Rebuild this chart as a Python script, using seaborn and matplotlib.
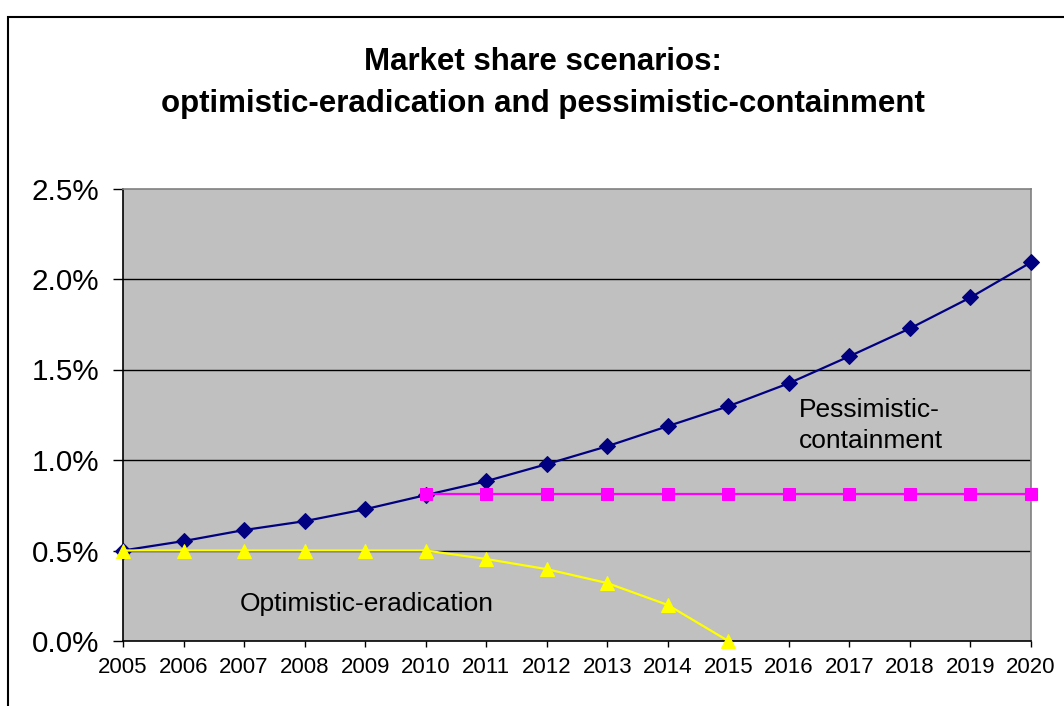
import matplotlib
matplotlib.use("Agg")
import matplotlib.pyplot as plt
import seaborn as sns
import pandas as pd
from matplotlib.ticker import FuncFormatter
from matplotlib.patches import Rectangle

years = list(range(2005, 2021))
pessimistic_vals = [0.50, 0.552, 0.613, 0.662, 0.728, 0.806, 0.883, 0.977, 1.076,
                    1.187, 1.297, 1.424, 1.573, 1.727, 1.898, 2.092]
containment_years = list(range(2010, 2021))
containment_vals = [0.81] * 11
eradication_years = list(range(2005, 2016))
eradication_vals = [0.50, 0.50, 0.50, 0.50, 0.50, 0.50, 0.453, 0.397, 0.32, 0.199, 0.0]
y_ticks = [0.0, 0.5, 1.0, 1.5, 2.0, 2.5]

sns.set_theme(style="white")
plt.rcParams['font.family'] = ['Liberation Sans', 'DejaVu Sans']
plt.rcParams['text.color'] = 'black'

fig = plt.figure(figsize=(10.64, 7.06), dpi=100)
ax = fig.add_axes([123/1064, 1-641/706, (1031-123)/1064, (641-188.5)/706])
ax.set_facecolor('#C0C0C0')

for yt in y_ticks[1:-1]:
    ax.axhline(yt, color='black', lw=1.0, zorder=1)

sns.lineplot(x=years, y=pessimistic_vals, ax=ax, color='#000080', lw=1.6,
             marker='D', markersize=8.5, markeredgecolor='#000080', clip_on=False, zorder=3)
sns.lineplot(x=containment_years, y=containment_vals, ax=ax, color='#FF00FF', lw=1.6,
             marker='s', markersize=8.5, markeredgecolor='#FF00FF', clip_on=False, zorder=4)
sns.lineplot(x=eradication_years, y=eradication_vals, ax=ax, color='#FFFF00', lw=1.6,
             marker='^', markersize=10.5, markeredgecolor='#FFFF00', clip_on=False, zorder=5)

ax.set_xlim(2005, 2020)
ax.set_ylim(0, 2.5)
ax.set_xticks(years)
ax.set_yticks(y_ticks)
ax.yaxis.set_major_formatter(FuncFormatter(lambda v, p: f"{v:.1f}%"))
ax.tick_params(axis='x', labelsize=16, direction='out', length=4.5, width=1, color='black', pad=7, bottom=True)
ax.tick_params(axis='y', labelsize=21.3, direction='out', length=7, width=1, color='black', pad=10, left=True)
for lab in ax.get_xticklabels() + ax.get_yticklabels():
    lab.set_color('black')

for s in ['left', 'bottom']:
    ax.spines[s].set_color('black')
    ax.spines[s].set_linewidth(1.2)
for s in ['top', 'right']:
    ax.spines[s].set_color('#808080')
    ax.spines[s].set_linewidth(1.2)
ax.set_xlabel('')
ax.set_ylabel('')

ax.text(2016.17, 1.19, "Pessimistic-\ncontainment", fontsize=19, ha='left', va='center',
        color='black', linespacing=1.35)
ax.text(2009.03, 0.204, "Optimistic-eradication", fontsize=19, ha='center', va='center', color='black')

fig.text(0.51, 1-83/706, "Market share scenarios:\noptimistic-eradication and pessimistic-containment",
         ha='center', va='center', fontsize=22.5, fontweight='bold', linespacing=1.5, color='black')

fig.patches.append(Rectangle((8/1064, -0.1), 1.2, 1-17/706+0.1, transform=fig.transFigure,
                             fill=False, edgecolor='black', lw=1.5, zorder=0))

fig.savefig('out.png', dpi=100)
